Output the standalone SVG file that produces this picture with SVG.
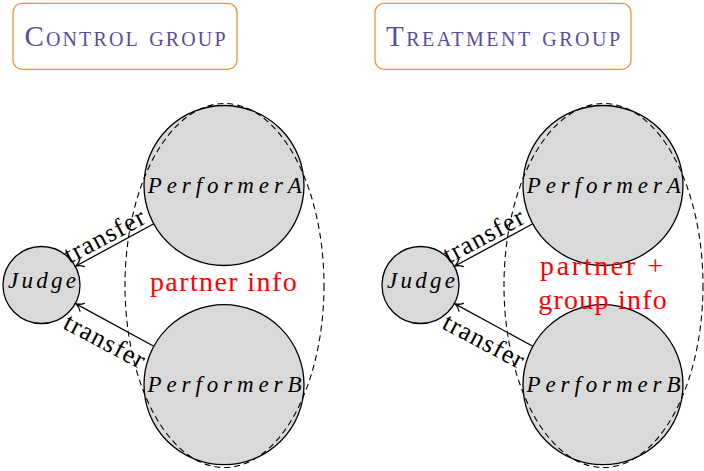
<svg xmlns="http://www.w3.org/2000/svg" width="704" height="471" viewBox="0 0 704 471">
<defs>
<style>
.title{fill:#fff;stroke:#f29333;stroke-width:1.3}
.ttext{font-family:"Liberation Serif",serif;font-size:29px;font-variant:small-caps;fill:#5b4c9f;text-anchor:middle}
.node{fill:#d9d9d9;stroke:#000;stroke-width:1.3}
.math{font-family:"Liberation Serif",serif;font-style:italic;font-size:23px;fill:#000;text-anchor:middle}
.fit{fill:none;stroke:#000;stroke-width:1.1;stroke-dasharray:6 4}
.info{font-family:"Liberation Serif",serif;font-size:28px;fill:#f00;text-anchor:middle}
.edge{fill:none;stroke:#000;stroke-width:1.3;marker-end:url(#arr)}
.lbl{font-family:"Liberation Serif",serif;font-size:26px;fill:#000;text-anchor:middle}
</style>
<marker id="arr" markerUnits="userSpaceOnUse" viewBox="-10 -6 12 12" refX="0" refY="0" markerWidth="12" markerHeight="12" orient="auto" overflow="visible">
<path d="M-7,-4.5 C-5,-2 -2,-0.6 0,0 C-2,0.6 -5,2 -7,4.5" fill="none" stroke="#000" stroke-width="1.3" stroke-linecap="round"/>
</marker>
</defs>

<g id="control-title">
<rect class="title" x="13" y="3.3" width="224" height="66" rx="9"/>
<text class="ttext" x="125" y="45.5" textLength="201" lengthAdjust="spacing">Control group</text>
</g>
<g id="treatment-title">
<rect class="title" x="375" y="3.3" width="256" height="66" rx="9"/>
<text class="ttext" x="503" y="45.5" textLength="234" lengthAdjust="spacing">Treatment group</text>
</g>

<g id="c-performerA">
<circle class="node" cx="224" cy="185.5" r="80"/>
<text class="math" x="224.8" y="193.3" textLength="154" lengthAdjust="spacing">PerformerA</text>
</g>
<g id="c-performerB">
<circle class="node" cx="224" cy="384.7" r="80"/>
<text class="math" x="224.5" y="391.7" textLength="154" lengthAdjust="spacing">PerformerB</text>
</g>
<g id="c-judge">
<circle class="node" cx="41.5" cy="285" r="38.5"/>
<text class="math" x="42" y="287.7" textLength="68" lengthAdjust="spacing">Judge</text>
</g>
<g id="c-fit">
<ellipse class="fit" cx="224.5" cy="285.5" rx="99.5" ry="182"/>
<text class="info" x="223.3" y="291" textLength="146.7" lengthAdjust="spacing">partner info</text>
</g>

<g id="t-performerA">
<circle class="node" cx="603" cy="185.5" r="80"/>
<text class="math" x="603.8" y="193.3" textLength="154" lengthAdjust="spacing">PerformerA</text>
</g>
<g id="t-performerB">
<circle class="node" cx="603" cy="384.7" r="80"/>
<text class="math" x="603.5" y="391.7" textLength="154" lengthAdjust="spacing">PerformerB</text>
</g>
<g id="t-judge">
<circle class="node" cx="420.5" cy="285" r="38.5"/>
<text class="math" x="421" y="287.7" textLength="68" lengthAdjust="spacing">Judge</text>
</g>
<g id="t-fit">
<ellipse class="fit" cx="603.5" cy="285.5" rx="99.5" ry="182"/>
<text class="info" x="601.7" y="275" textLength="123.3" lengthAdjust="spacing">partner +</text>
<text class="info" x="602.5" y="309.3" textLength="128.4" lengthAdjust="spacing">group info</text>
</g>

<g id="connectors">
<line class="edge" x1="153.8" y1="223.8" x2="76" y2="266"/>
<line class="edge" x1="153.8" y1="346.3" x2="76" y2="303.9"/>
<text class="lbl" transform="translate(108.3,243.4) rotate(-27.9)" textLength="88" lengthAdjust="spacing">transfer</text>
<text class="lbl" transform="translate(100.7,348.4) rotate(28)" textLength="88" lengthAdjust="spacing">transfer</text>
<line class="edge" x1="532.8" y1="223.8" x2="455" y2="266"/>
<line class="edge" x1="532.8" y1="346.3" x2="455" y2="303.9"/>
<text class="lbl" transform="translate(487.3,243.4) rotate(-27.9)" textLength="88" lengthAdjust="spacing">transfer</text>
<text class="lbl" transform="translate(479.7,348.4) rotate(28)" textLength="88" lengthAdjust="spacing">transfer</text>
</g>
</svg>
